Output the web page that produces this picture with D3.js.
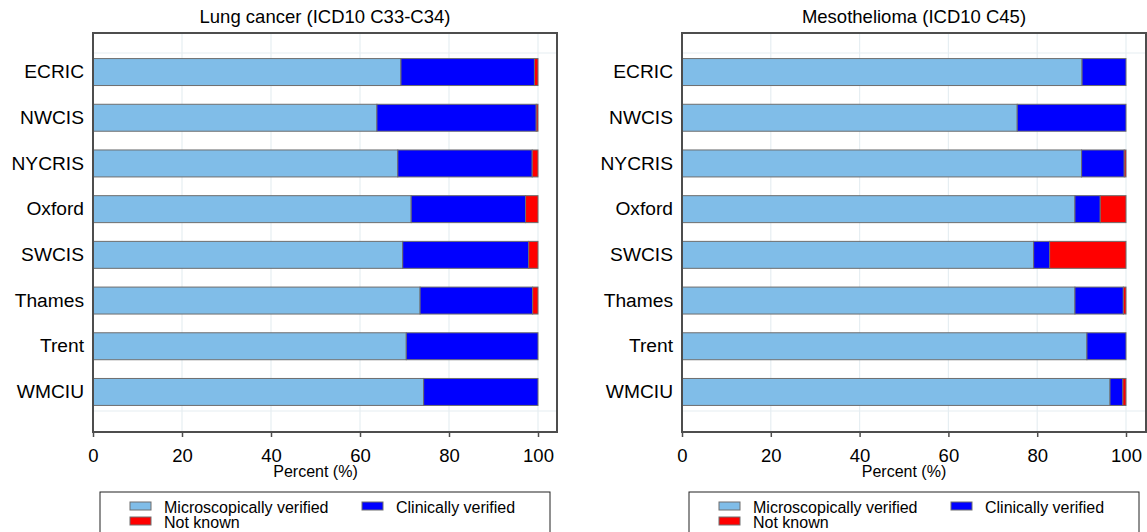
<!DOCTYPE html>
<html><head><meta charset="utf-8">
<script src="https://cdn.jsdelivr.net/npm/d3@7"></script>
<style>body{margin:0;background:#fff;}svg{display:block;font-family:"Liberation Sans",Arial,sans-serif;}</style>
</head><body>
<svg id="c" width="1147" height="532"></svg>
<script>
const categories = ["ECRIC","NWCIS","NYCRIS","Oxford","SWCIS","Thames","Trent","WMCIU"];
const seriesNames = ["Microscopically verified","Clinically verified","Not known"];
const seriesColors = ["#80bde8","#0000ff","#ff0000"];
const lungMicro    = [69.2, 63.8, 68.5, 71.5, 69.6, 73.5, 70.4, 74.3];
const lungClinical = [30.0, 35.8, 30.2, 25.7, 28.3, 25.3, 29.6, 25.7];
const lungUnknown  = [0.8, 0.4, 1.3, 2.8, 2.1, 1.2, 0.0, 0.0];
const mesoMicro    = [90.1, 75.5, 90.0, 88.5, 79.2, 88.5, 91.2, 96.4];
const mesoClinical = [9.9, 24.5, 9.6, 5.7, 3.6, 10.9, 8.8, 2.9];
const mesoUnknown  = [0.0, 0.0, 0.4, 5.8, 17.2, 0.6, 0.0, 0.7];
const xTicks = [0,20,40,60,80,100];
const titles = ["Lung cancer (ICD10 C33-C34)","Mesothelioma (ICD10 C45)"];
const xLabel = "Percent (%)";

const svg = d3.select("#c");
const panels = [
  {title:titles[0], data:[lungMicro,lungClinical,lungUnknown], x0:93, x100:538, boxR:557},
  {title:titles[1], data:[mesoMicro,mesoClinical,mesoUnknown], x0:682, x100:1126, boxR:1146}
];
const plotTop = 33, plotBottom = 432;
const y = d3.scaleBand().domain(categories).range([49.2,414.8]).paddingInner(0.41).paddingOuter(0.205);
const FONT = "Liberation Sans, Arial, sans-serif";

panels.forEach(p => {
  const x = d3.scaleLinear().domain([0,100]).range([p.x0,p.x100]);
  const g = svg.append("g");
  g.selectAll(".vg").data(xTicks.slice(1)).join("line")
    .attr("x1",d=>x(d)).attr("x2",d=>x(d)).attr("y1",plotTop).attr("y2",plotBottom)
    .attr("stroke","#e6eef2").attr("stroke-width",1.2);
  [53,411].forEach(yy=>g.append("line").attr("x1",p.x0).attr("x2",p.boxR).attr("y1",yy).attr("y2",yy)
    .attr("stroke","#e6eef2").attr("stroke-width",1.2));
  const rows = categories.map((c,i)=>({cat:c, vals:p.data.map(s=>s[i])}));
  rows.forEach(r=>{
    let acc = 0;
    r.vals.forEach((v,si)=>{
      if(v<=0) return;
      g.append("rect").attr("x",x(acc)).attr("y",y(r.cat)).attr("width",x(acc+v)-x(acc)).attr("height",y.bandwidth())
        .attr("fill",seriesColors[si]).attr("stroke","#6e6e6e").attr("stroke-width",1);
      acc += v;
    });
  });
  g.append("rect").attr("x",p.x0).attr("y",plotTop).attr("width",p.boxR-p.x0).attr("height",plotBottom-plotTop)
    .attr("fill","none").attr("stroke","#4d4d4d").attr("stroke-width",2);
  const ax = g.append("g").attr("transform",`translate(0,${plotBottom})`)
    .call(d3.axisBottom(x).tickValues(xTicks).tickSize(5).tickPadding(12));
  ax.select(".domain").remove();
  ax.selectAll("line").attr("stroke","#4d4d4d").attr("stroke-width",1.5);
  ax.selectAll("text").attr("font-size",18.5).attr("fill","#000").attr("font-family",FONT);
  const ay = g.append("g").attr("transform",`translate(${p.x0},0)`)
    .call(d3.axisLeft(y).tickSize(0).tickPadding(9));
  ay.select(".domain").remove();
  ay.selectAll("text").attr("font-size",19.2).attr("fill","#000").attr("font-family",FONT);
  g.append("text").attr("x",(p.x0+p.boxR)/2).attr("y",23).attr("text-anchor","middle")
    .attr("font-size",18.5).text(p.title);
  g.append("text").attr("x",(p.x0+p.x100)/2).attr("y",477).attr("text-anchor","middle")
    .attr("font-size",16).text(xLabel);
  const lx = p.x0+7, lg = g.append("g");
  lg.append("rect").attr("x",lx).attr("y",492).attr("width",450).attr("height",60)
    .attr("fill","#fff").attr("stroke","#222").attr("stroke-width",1);
  const items = [{i:0,x:lx+30,y:502},{i:1,x:lx+262,y:502},{i:2,x:lx+30,y:517}];
  items.forEach(it=>{
    lg.append("rect").attr("x",it.x).attr("y",it.y).attr("width",21).attr("height",8)
      .attr("fill",seriesColors[it.i]).attr("stroke","#6e6e6e").attr("stroke-width",1);
    lg.append("text").attr("x",it.x+34).attr("y",it.y+10.5).attr("font-size",16).text(seriesNames[it.i]);
  });
});
</script>
</body></html>
